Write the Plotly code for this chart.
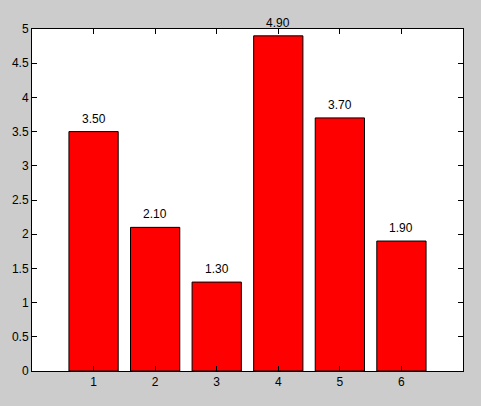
import plotly.graph_objects as go

categories = [1, 2, 3, 4, 5, 6]
values = [3.5, 2.1, 1.3, 4.9, 3.7, 1.9]
labels = ["%.2f" % v for v in values]
y_ticks = [0, 0.5, 1, 1.5, 2, 2.5, 3, 3.5, 4, 4.5, 5]
y_tick_text = ["0", "0.5", "1", "1.5", "2", "2.5", "3", "3.5", "4", "4.5", "5"]

fig = go.Figure()
fig.add_trace(go.Bar(
    x=categories, y=values, width=0.8,
    marker=dict(color="#FF0000", line=dict(color="black", width=1)),
    hoverinfo="skip",
))
for c, v, t in zip(categories, values, labels):
    fig.add_annotation(x=c, y=v, text=t, showarrow=False, yanchor="bottom",
                       yshift=4, font=dict(family="Liberation Sans, Arial", size=12, color="black"))

fig.update_layout(
    width=481, height=406,
    margin=dict(l=29, r=18, t=29, b=35),
    paper_bgcolor="#CCCCCC", plot_bgcolor="white",
    showlegend=False,
    font=dict(family="Liberation Sans, Arial", size=12, color="black"),
    xaxis=dict(range=[0, 7], tickvals=categories, ticktext=[str(c) for c in categories],
               ticks="inside", ticklen=5, tickcolor="black", showline=True, linecolor="black",
               linewidth=1, mirror="allticks", showgrid=False, zeroline=False, fixedrange=True),
    yaxis=dict(range=[0, 5], tickvals=y_ticks, ticktext=y_tick_text,
               ticks="inside", ticklen=5, tickcolor="black", showline=True, linecolor="black",
               linewidth=1, mirror="allticks", showgrid=False, zeroline=False, fixedrange=True),
)
fig.write_html("out.html", config={"displayModeBar": False},
               post_script="document.body.style.margin='0';document.body.style.background='#CCCCCC';")
